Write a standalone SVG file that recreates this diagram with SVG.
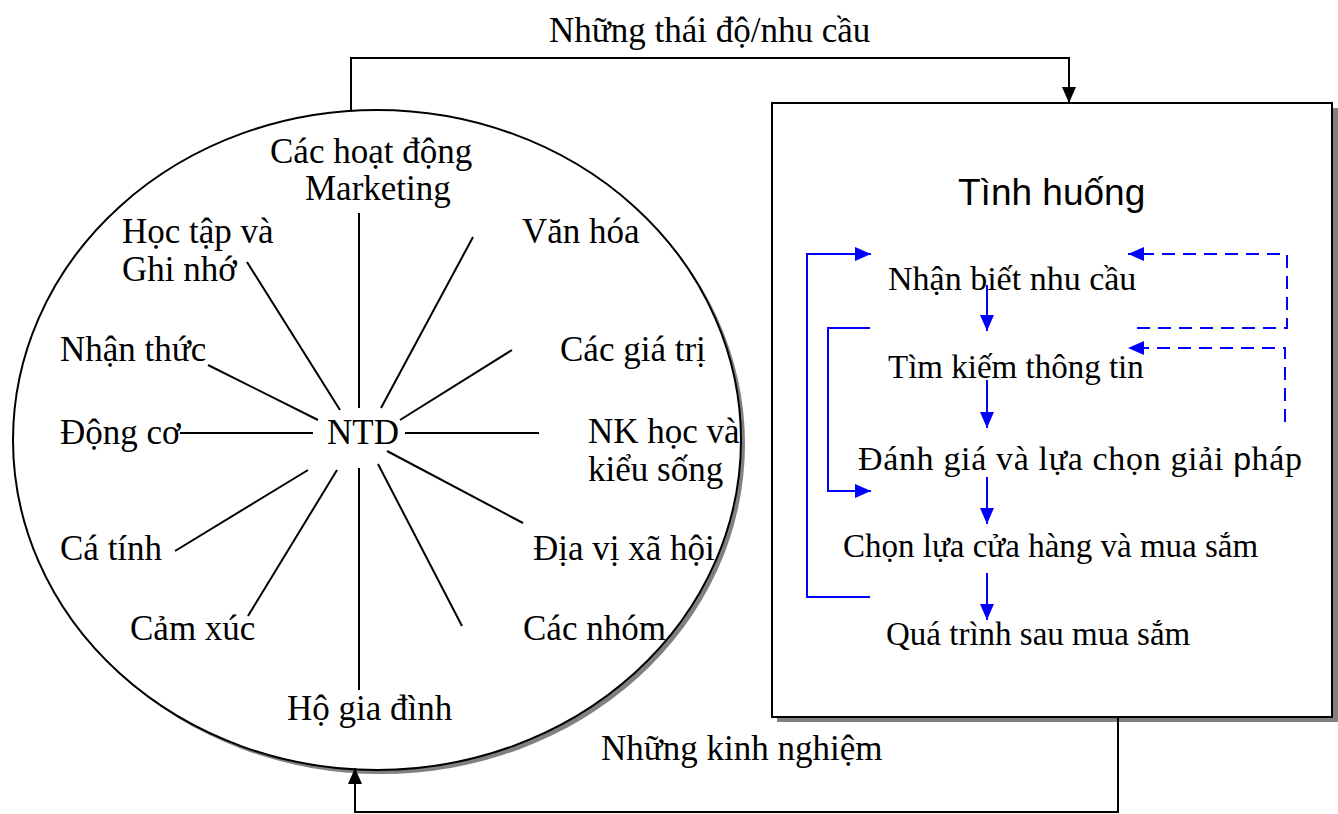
<svg xmlns="http://www.w3.org/2000/svg" width="1338" height="814" viewBox="0 0 1338 814">
  <defs>
    <marker id="arrowHeadBlack" viewBox="0 0 16 14" refX="16" refY="7" markerWidth="16" markerHeight="14" orient="auto" markerUnits="userSpaceOnUse">
      <path d="M0,0 L16,7 L0,14 Z" fill="#000"/>
    </marker>
    <marker id="arrowHeadBlue" viewBox="0 0 16 14" refX="16" refY="7" markerWidth="16" markerHeight="14" orient="auto" markerUnits="userSpaceOnUse">
      <path d="M0,0 L16,7 L0,14 Z" fill="#0000ff"/>
    </marker>
  </defs>
  <style>
    .serif { font-family: "Liberation Serif", "Times New Roman", serif; font-size: 35px; fill: #000; }
    .step { font-family: "Liberation Serif", "Times New Roman", serif; font-size: 33px; fill: #000; }
    .step-lg { font-size: 34px; }
    .sans { font-family: "Liberation Sans", Arial, sans-serif; font-size: 37px; fill: #000; }
    .spoke { stroke: #000; stroke-width: 2; fill: none; }
    .link { stroke: #000; stroke-width: 2; fill: none; }
    .flow { stroke: #0000ff; stroke-width: 2; fill: none; }
    .dash { stroke: #0000ff; stroke-width: 2; fill: none; stroke-dasharray: 13 8; }
  </style>
  <rect width="1338" height="814" fill="#fff"/>

  <!-- consumer ellipse with factors -->
  <g id="consumer">
    <ellipse cx="381" cy="444" rx="364" ry="330" fill="#808080"/>
    <ellipse cx="377" cy="440" rx="364" ry="330" fill="#fff" stroke="#000" stroke-width="2"/>
    <g class="spoke-lines">
      <line class="spoke" x1="359" y1="213" x2="359" y2="408"/>
      <line class="spoke" x1="473" y1="237" x2="381" y2="408"/>
      <line class="spoke" x1="512" y1="350" x2="400" y2="420"/>
      <line class="spoke" x1="405" y1="433" x2="539" y2="433"/>
      <line class="spoke" x1="387" y1="451" x2="523" y2="523"/>
      <line class="spoke" x1="378" y1="464" x2="462" y2="626"/>
      <line class="spoke" x1="359" y1="468" x2="359" y2="690"/>
      <line class="spoke" x1="337" y1="470" x2="248" y2="616"/>
      <line class="spoke" x1="308" y1="470" x2="175" y2="551"/>
      <line class="spoke" x1="180" y1="433" x2="313" y2="433"/>
      <line class="spoke" x1="208" y1="365" x2="318" y2="420"/>
      <line class="spoke" x1="247" y1="262" x2="340" y2="410"/>
    </g>
    <text class="serif" x="270" y="163">Các hoạt động</text>
    <text class="serif" x="305" y="200">Marketing</text>
    <text class="serif" x="122" y="243">Học tập và</text>
    <text class="serif" x="122" y="281">Ghi nhớ</text>
    <text class="serif" x="522" y="243">Văn hóa</text>
    <text class="serif" x="60" y="361">Nhận thức</text>
    <text class="serif" x="560" y="361">Các giá trị</text>
    <text class="serif" x="60" y="444">Động cơ</text>
    <text class="serif" x="327" y="444">NTD</text>
    <text class="serif" x="588" y="443">NK học và</text>
    <text class="serif" x="588" y="481">kiểu sống</text>
    <text class="serif" x="60" y="560">Cá tính</text>
    <text class="serif" x="533" y="560">Địa vị xã hội</text>
    <text class="serif" x="130" y="640">Cảm xúc</text>
    <text class="serif" x="523" y="640">Các nhóm</text>
    <text class="serif" x="287" y="720">Hộ gia đình</text>
  </g>

  <!-- situation box with buying process -->
  <g id="situation">
    <rect x="777" y="108" width="561" height="614" fill="#808080"/>
    <rect x="772" y="103" width="560" height="614" fill="#fff" stroke="#000" stroke-width="2"/>
    <text class="sans" x="958" y="205">Tình huống</text>
    <text class="step step-lg" x="888" y="290">Nhận biết nhu cầu</text>
    <text class="step" x="888" y="378">Tìm kiếm thông tin</text>
    <text class="step step-lg" x="858" y="470" textLength="444" lengthAdjust="spacing">Đánh giá và lựa chọn giải <tspan font-family="Liberation Sans, Arial, sans-serif" font-size="32">p</tspan>háp</text>
    <text class="step" x="843" y="557">Chọn lựa cửa hàng và mua sắm</text>
    <text class="step" x="886" y="645">Quá trình sau mua sắm</text>
  </g>

  <!-- connectors -->
  <g id="connectors">
    <path class="link" d="M351,110 V58 H1069 V103" marker-end="url(#arrowHeadBlack)"/>
    <path class="link" d="M1118,718 V812 H355 V768" marker-end="url(#arrowHeadBlack)"/>
    <text class="serif" x="549" y="42">Những thái độ/nhu cầu</text>
    <text class="serif" x="601" y="760">Những kinh nghiệm</text>

    <line class="flow" x1="987" y1="285" x2="987" y2="331" marker-end="url(#arrowHeadBlue)"/>
    <line class="flow" x1="987" y1="380" x2="987" y2="428" marker-end="url(#arrowHeadBlue)"/>
    <line class="flow" x1="987" y1="477" x2="987" y2="524" marker-end="url(#arrowHeadBlue)"/>
    <line class="flow" x1="987" y1="573" x2="987" y2="620" marker-end="url(#arrowHeadBlue)"/>

    <path class="flow" d="M870,597 H807 V254 H871" marker-end="url(#arrowHeadBlue)"/>
    <path class="flow" d="M870,328 H828 V491 H871" marker-end="url(#arrowHeadBlue)"/>

    <path class="dash" d="M1137,328 H1287 V254 H1128" marker-end="url(#arrowHeadBlue)"/>
    <path class="dash" d="M1285,422 V348 H1128" marker-end="url(#arrowHeadBlue)"/>
  </g>
</svg>
